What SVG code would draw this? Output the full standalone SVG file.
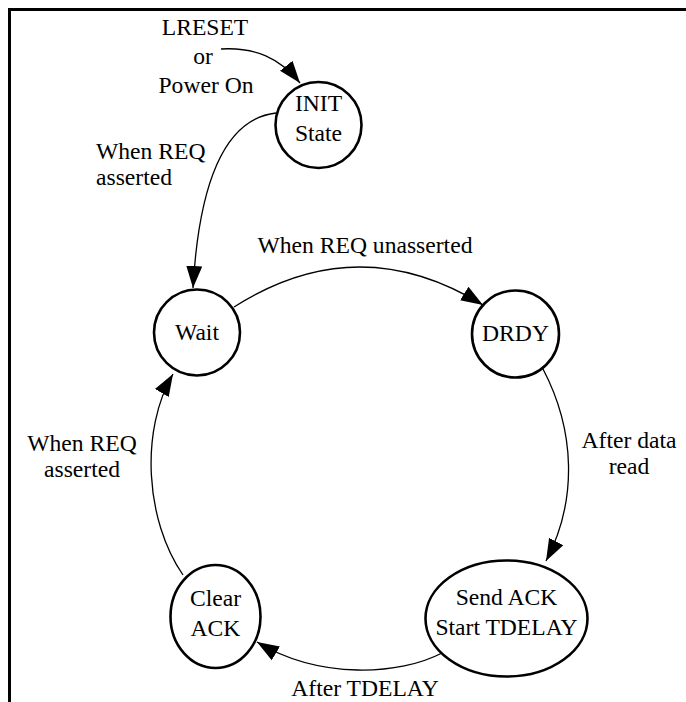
<svg xmlns="http://www.w3.org/2000/svg" width="686" height="702" viewBox="0 0 686 702">
<defs>
<style>
text{font-family:"Liberation Serif","Times New Roman",serif;font-size:23.6px;fill:#000}
.c{text-anchor:middle}
.node{fill:#fff;stroke:#000;stroke-width:2.6}
.edge{fill:none;stroke:#000;stroke-width:1.3}
.frame{fill:none;stroke:#000;stroke-width:3}
</style>
<marker id="arr" markerUnits="userSpaceOnUse" markerWidth="23" markerHeight="18" refX="22" refY="9" orient="auto">
<path d="M0,1 L22,9 L0,17 z" fill="#000"/>
</marker>
</defs>
<path class="frame" d="M9.5,702 V9.5 H686"/>
<g id="connectors">
<path class="edge" d="M221,49 C255,47 280,58 300,83" marker-end="url(#arr)"/>
<path class="edge" d="M276,113 C232,118 200,165 193,288" marker-end="url(#arr)"/>
<path class="edge" d="M234,307 Q358,228 483,305" marker-end="url(#arr)"/>
<path class="edge" d="M543,369 C575,430 578,500 546,561" marker-end="url(#arr)"/>
<path class="edge" d="M442,653 C400,675 320,680 257,642" marker-end="url(#arr)"/>
<path class="edge" d="M183,575 C145,520 140,430 173,374" marker-end="url(#arr)"/>
</g>
<g id="labels">
<text class="c" x="205" y="35">LRESET</text>
<text class="c" x="203" y="64">or</text>
<text class="c" x="206" y="93">Power On</text>
<text x="96" y="159">When REQ</text>
<text x="96" y="185">asserted</text>
<text class="c" x="365" y="253">When REQ unasserted</text>
<text class="c" x="629" y="448">After data</text>
<text class="c" x="629" y="474">read</text>
<text class="c" x="82" y="451">When REQ</text>
<text class="c" x="82" y="477">asserted</text>
<text class="c" x="365" y="696">After TDELAY</text>
</g>
<g id="init">
<circle class="node" cx="318.5" cy="125" r="43"/>
<text class="c" x="318.5" y="111">INIT</text>
<text class="c" x="318.5" y="141">State</text>
</g>
<g id="wait">
<circle class="node" cx="197" cy="332.5" r="43"/>
<text class="c" x="197" y="340">Wait</text>
</g>
<g id="drdy">
<circle class="node" cx="515.5" cy="334" r="43.5"/>
<text class="c" x="515.5" y="341">DRDY</text>
</g>
<g id="sendack">
<ellipse class="node" cx="506.5" cy="618.5" rx="81" ry="58"/>
<text class="c" x="506.5" y="605">Send ACK</text>
<text class="c" x="506.5" y="635">Start TDELAY</text>
</g>
<g id="clearack">
<ellipse class="node" cx="215.5" cy="616.5" rx="45" ry="51.5"/>
<text class="c" x="215.5" y="606">Clear</text>
<text class="c" x="215.5" y="636">ACK</text>
</g>
</svg>
